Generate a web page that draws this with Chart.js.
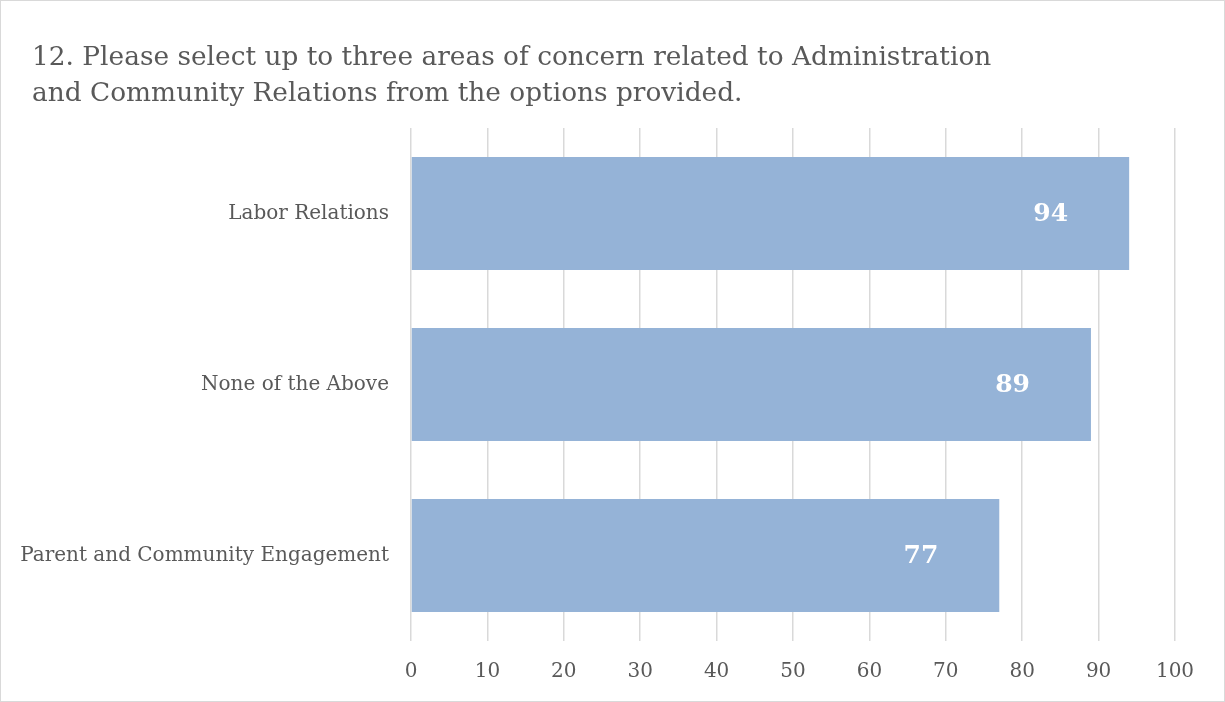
<!DOCTYPE html>
<html lang="en">
<head>
    <meta charset="UTF-8">
    <title>Areas of Concern</title>
    <style>
        body { margin: 0; background: #ffffff; }
        .frame {
            width: 1225px;
            height: 702px;
            box-sizing: border-box;
            border: 1px solid #d9d9d9;
            background: #ffffff;
        }
        .frame canvas { display: block; }
    </style>
</head>
<body>
    <div class="frame">
        <canvas id="concernChart" width="1223" height="700"></canvas>
    </div>

    <script src="https://cdn.jsdelivr.net/npm/chart.js"></script>
    <script>
        const titleLines = [
            '12. Please select up to three areas of concern related to Administration',
            'and Community Relations from the options provided.'
        ];
        const categories = ['Labor Relations', 'None of the Above', 'Parent and Community Engagement'];
        const responses = [94, 89, 77];
        const xTicks = [0, 10, 20, 30, 40, 50, 60, 70, 80, 90, 100];

        const textGrey = '#595959';
        const fontFamily = '"DejaVu Serif", serif';

        // two-line title, left aligned independently of the axis area
        const leftTitle = {
            id: 'leftTitle',
            afterDraw(chart) {
                const ctx = chart.ctx;
                ctx.save();
                ctx.font = '26.4px ' + fontFamily;
                ctx.fillStyle = textGrey;
                ctx.textAlign = 'left';
                ctx.textBaseline = 'alphabetic';
                ctx.fillText(titleLines[0], 31, 64);
                ctx.fillText(titleLines[1], 31, 100);
                ctx.restore();
            }
        };

        // white value labels near the end of each bar (like Excel "inside end")
        const insideEndLabels = {
            id: 'insideEndLabels',
            afterDatasetsDraw(chart) {
                const ctx = chart.ctx;
                const meta = chart.getDatasetMeta(0);
                ctx.save();
                ctx.font = 'bold 25px ' + fontFamily;
                ctx.fillStyle = '#ffffff';
                ctx.textAlign = 'right';
                ctx.textBaseline = 'middle';
                meta.data.forEach((bar, i) => {
                    ctx.fillText(String(responses[i]), bar.x - 61, bar.y + 1);
                });
                ctx.restore();
            }
        };

        const ctx = document.getElementById('concernChart').getContext('2d');
        const concernChart = new Chart(ctx, {
            type: 'bar',
            data: {
                labels: categories,
                datasets: [{
                    data: responses,
                    backgroundColor: '#95b3d7',
                    borderWidth: 0,
                    barPercentage: 0.66,
                    categoryPercentage: 1.0
                }]
            },
            options: {
                indexAxis: 'y',
                responsive: false,
                animation: false,
                layout: {
                    padding: { left: 12, right: 49, top: 127, bottom: 0 }
                },
                scales: {
                    x: {
                        min: 0,
                        max: 100,
                        afterBuildTicks(scale) {
                            scale.ticks = xTicks.map(v => ({ value: v }));
                        },
                        afterFit(scale) {
                            scale.height = 60;
                        },
                        grid: {
                            color: '#d9d9d9',
                            lineWidth: 1.5,
                            drawTicks: false
                        },
                        border: { display: false },
                        ticks: {
                            color: textGrey,
                            padding: 19,
                            font: { family: fontFamily, size: 20 }
                        }
                    },
                    y: {
                        afterFit(scale) {
                            scale.width = 398;
                        },
                        grid: { display: false, drawTicks: false },
                        border: { display: false },
                        ticks: {
                            color: textGrey,
                            padding: 22,
                            font: { family: fontFamily, size: 20 }
                        }
                    }
                },
                plugins: {
                    legend: { display: false },
                    tooltip: { enabled: false },
                    title: { display: false }
                }
            },
            plugins: [insideEndLabels, leftTitle]
        });
    </script>
</body>
</html>
